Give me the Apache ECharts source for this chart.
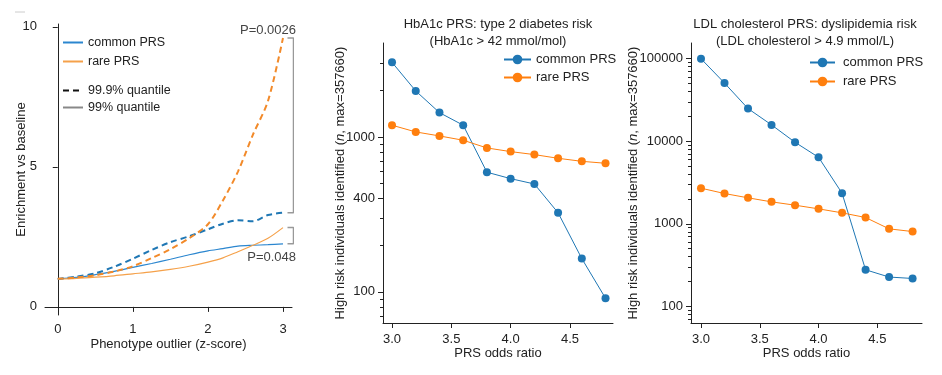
<!DOCTYPE html>
<html>
<head>
<meta charset="utf-8">
<script src="https://cdn.jsdelivr.net/npm/echarts@6/dist/echarts.min.js"></script>
<style>
  html, body { margin: 0; padding: 0; background: #fff; }
  #main { width: 942px; height: 375px; }
</style>
</head>
<body>
<div id="main"></div>
<script>
// 左图：表型离群值 vs 富集
const zScore = [0, 0.25, 0.5, 0.75, 1, 1.25, 1.5, 1.75, 2, 2.2, 2.4, 2.6, 2.8, 3];
const commonQ99 = [1.0, 1.05, 1.15, 1.27, 1.41, 1.55, 1.7, 1.86, 2.0, 2.08, 2.17, 2.2, 2.22, 2.25];
const rareQ99 = [1.0, 1.02, 1.06, 1.11, 1.18, 1.25, 1.34, 1.45, 1.6, 1.75, 1.97, 2.2, 2.45, 2.83];
const commonQ999 = [1.0, 1.08, 1.2, 1.43, 1.72, 2.03, 2.31, 2.52, 2.77, 2.97, 3.09, 3.06, 3.28, 3.36];
const rareQ999 = [1.0, 1.05, 1.13, 1.26, 1.45, 1.74, 2.06, 2.45, 2.95, 3.8, 4.83, 6.15, 7.35, 9.6];
const zTicks = [0, 1, 2, 3];
const enrichTicks = [0, 5, 10];
const pTexts = ['P=0.0026', 'P=0.048'];
const bracketHigh = [9.6, 3.36];
const bracketLow = [2.83, 2.25];

// 中图、右图：PRS odds ratio
const oddsRatio = [3.0, 3.2, 3.4, 3.6, 3.8, 4.0, 4.2, 4.4, 4.6, 4.8];
const hba1cCommon = [3030, 1980, 1435, 1190, 592, 538, 497, 324, 164, 91];
const hba1cRare = [1190, 1077, 1015, 952, 849, 804, 769, 728, 696, 676];
const ldlCommon = [100000, 50700, 24900, 15800, 9730, 6400, 2350, 278, 227, 218];
const ldlRare = [2705, 2330, 2067, 1847, 1683, 1520, 1360, 1194, 870, 807];
const orTicks = [3.0, 3.5, 4.0, 4.5];
const hba1cMajor = [100, 400, 1000];
const hba1cMinor = [70, 80, 90, 200, 300, 500, 600, 700, 800, 900, 2000, 3000];
const ldlMajor = [100, 1000, 10000, 100000];
const ldlMinor = [70, 80, 90, 200, 300, 400, 500, 600, 700, 800, 900,
  2000, 3000, 4000, 5000, 6000, 7000, 8000, 9000,
  20000, 30000, 40000, 50000, 60000, 70000, 80000, 90000];

const BLUE = '#1f77b4';
const ORANGE = '#ff7f0e';
const AX = '#222';
const FONT = 'Liberation Sans, Arial, sans-serif';

var chart = echarts.init(document.getElementById('main'));

function zip(xs, ys) {
  return xs.map((x, i) => [x, ys[i]]);
}

function baseAxis(extra) {
  return Object.assign({
    axisLine: { show: true, lineStyle: { color: AX, width: 1 } },
    splitLine: { show: false },
    nameMoveOverlap: false,
    nameTextStyle: { color: AX, fontSize: 13, fontFamily: FONT }
  }, extra);
}

function ticks(values, len) {
  return { show: true, length: len || 5, customValues: values, lineStyle: { color: AX } };
}

function labels(values, fmt, margin) {
  return { color: AX, fontSize: 13, fontFamily: FONT, customValues: values,
    margin: margin || 8, formatter: fmt || (v => String(v)) };
}

// 只画短刻度的覆盖坐标轴
function minorAxis(gridIndex, min, max, values) {
  return {
    type: 'log', gridIndex: gridIndex, min: min, max: max,
    axisLine: { show: true, lineStyle: { color: AX, opacity: 0 } },
    axisTick: ticks(values, 3),
    axisLabel: { show: false },
    splitLine: { show: false }
  };
}

const yNameRich = {
  i: { fontStyle: 'italic', fontSize: 13, fontFamily: FONT, color: AX }
};
const yName = 'High risk individuals identified ({i|n}, max=357660)';

const option = {
  animation: false,
  textStyle: { fontFamily: FONT },
  grid: [
    { left: 45, top: 24, width: 247, height: 291 },
    { left: 383, top: 43, width: 230, height: 280 },
    { left: 691, top: 43, width: 231, height: 280 },
    { left: 383, top: 43, width: 230, height: 280 },
    { left: 691, top: 43, width: 231, height: 280 }
  ],
  xAxis: [
    baseAxis({
      type: 'value', gridIndex: 0, min: -0.17, max: 3.12,
      name: 'Phenotype outlier (z-score)', nameLocation: 'middle', nameGap: 23,
      axisTick: ticks(zTicks), axisLabel: labels(zTicks)
    }),
    baseAxis({
      type: 'value', gridIndex: 1, min: 2.924, max: 4.863,
      name: 'PRS odds ratio', nameLocation: 'middle', nameGap: 24,
      axisTick: ticks(orTicks), axisLabel: labels(orTicks, v => v.toFixed(1), 10)
    }),
    baseAxis({
      type: 'value', gridIndex: 2, min: 2.915, max: 4.88,
      name: 'PRS odds ratio', nameLocation: 'middle', nameGap: 24,
      axisTick: ticks(orTicks), axisLabel: labels(orTicks, v => v.toFixed(1), 10)
    }),
    { type: 'value', gridIndex: 3, min: 2.924, max: 4.863, show: false },
    { type: 'value', gridIndex: 4, min: 2.915, max: 4.88, show: false }
  ],
  yAxis: [
    baseAxis({
      type: 'value', gridIndex: 0, min: -0.29, max: 10.1,
      name: 'Enrichment vs baseline', nameLocation: 'middle', nameGap: 17,
      axisTick: ticks(enrichTicks), axisLabel: labels(enrichTicks)
    }),
    baseAxis({
      type: 'log', gridIndex: 1, min: 63, max: 4037,
      name: yName, nameLocation: 'middle', nameGap: 36,
      nameTextStyle: { color: AX, fontSize: 13, fontFamily: FONT, rich: yNameRich },
      axisTick: ticks(hba1cMajor), axisLabel: labels(hba1cMajor)
    }),
    baseAxis({
      type: 'log', gridIndex: 2, min: 63, max: 155000,
      name: yName, nameLocation: 'middle', nameGap: 51,
      nameTextStyle: { color: AX, fontSize: 13, fontFamily: FONT, rich: yNameRich },
      axisTick: ticks(ldlMajor), axisLabel: labels(ldlMajor)
    }),
    minorAxis(3, 63, 4037, hba1cMinor),
    minorAxis(4, 63, 155000, ldlMinor)
  ],
  legend: [
    {
      data: ['common PRS', 'rare PRS'], orient: 'vertical', left: 57, top: 31,
      itemWidth: 20, itemHeight: 14, itemGap: 6, itemStyle: { opacity: 0 },
      textStyle: { color: AX, fontSize: 12.5, fontFamily: FONT }
    },
    {
      data: ['99.9% quantile', '99% quantile'], orient: 'vertical', left: 57, top: 79,
      itemWidth: 20, itemHeight: 14, itemGap: 4, itemStyle: { opacity: 0 },
      textStyle: { color: AX, fontSize: 12.5, fontFamily: FONT }
    },
    {
      data: ['common PRS ', 'rare PRS '], orient: 'vertical', left: 498, top: 48,
      itemWidth: 27, itemHeight: 12, itemGap: 5,
      formatter: n => n.trim(),
      textStyle: { color: AX, fontSize: 13, fontFamily: FONT }
    },
    {
      data: ['common PRS  ', 'rare PRS  '], orient: 'vertical', left: 804, top: 51,
      itemWidth: 25, itemHeight: 12, itemGap: 6,
      formatter: n => n.trim(),
      textStyle: { color: AX, fontSize: 13, fontFamily: FONT, padding: [0, 0, 0, 3] }
    }
  ],
  graphic: [
    { type: 'line', shape: { x1: 15, y1: 12, x2: 25, y2: 12 }, style: { stroke: '#ccc', lineWidth: 1 } },
    { type: 'text', x: 296, y: 30, style: { text: pTexts[0], fill: '#444', fontSize: 13, fontFamily: FONT, align: 'right', verticalAlign: 'middle' } },
    { type: 'text', x: 296, y: 257, style: { text: pTexts[1], fill: '#444', fontSize: 13, fontFamily: FONT, align: 'right', verticalAlign: 'middle' } },
    { type: 'text', x: 498, y: 16, style: { text: 'HbA1c PRS: type 2 diabetes risk\n(HbA1c > 42 mmol/mol)', fill: AX, fontSize: 13, lineHeight: 17, fontFamily: FONT, align: 'center' } },
    { type: 'text', x: 805, y: 16, style: { text: 'LDL cholesterol PRS: dyslipidemia risk\n(LDL cholesterol > 4.9 mmol/L)', fill: AX, fontSize: 13, lineHeight: 17, fontFamily: FONT, align: 'center' } }
  ],
  series: [
    // 左图
    { name: 'common PRS', type: 'line', xAxisIndex: 0, yAxisIndex: 0, data: zip(zScore, commonQ99),
      symbol: 'none', smooth: 0.3, lineStyle: { color: '#2b86cf', width: 1.2 }, itemStyle: { color: '#2b86cf' } },
    { name: 'rare PRS', type: 'line', xAxisIndex: 0, yAxisIndex: 0, data: zip(zScore, rareQ99),
      symbol: 'none', smooth: 0.3, lineStyle: { color: '#f5a14a', width: 1.2 }, itemStyle: { color: '#f5a14a' } },
    { name: 'common 99.9', type: 'line', xAxisIndex: 0, yAxisIndex: 0, data: zip(zScore, commonQ999),
      symbol: 'none', smooth: 0.3, lineStyle: { color: BLUE, width: 2, type: [6, 4] } },
    { name: 'rare 99.9', type: 'line', xAxisIndex: 0, yAxisIndex: 0, data: zip(zScore, rareQ999),
      symbol: 'none', smooth: 0.3, lineStyle: { color: '#f28a2a', width: 2, type: [6, 4] } },
    { name: '99.9% quantile', type: 'line', xAxisIndex: 0, yAxisIndex: 0, data: [],
      symbol: 'none', lineStyle: { color: '#111', width: 2, type: [6, 4] }, itemStyle: { color: '#111' } },
    { name: '99% quantile', type: 'line', xAxisIndex: 0, yAxisIndex: 0, data: [],
      symbol: 'none', lineStyle: { color: '#888', width: 1.5 }, itemStyle: { color: '#888' } },
    { name: 'bracket1', type: 'line', xAxisIndex: 0, yAxisIndex: 0, clip: false, symbol: 'none', silent: true,
      data: [[3.06, bracketHigh[0]], [3.14, bracketHigh[0]], [3.14, bracketHigh[1]], [3.06, bracketHigh[1]]],
      lineStyle: { color: '#999', width: 1.5 } },
    { name: 'bracket2', type: 'line', xAxisIndex: 0, yAxisIndex: 0, clip: false, symbol: 'none', silent: true,
      data: [[3.06, bracketLow[0]], [3.14, bracketLow[0]], [3.14, bracketLow[1]], [3.06, bracketLow[1]]],
      lineStyle: { color: '#999', width: 1.5 } },
    // 中图
    { name: 'common PRS ', type: 'line', xAxisIndex: 1, yAxisIndex: 1, data: zip(oddsRatio, hba1cCommon),
      symbol: 'circle', symbolSize: 8, lineStyle: { color: BLUE, width: 1 }, itemStyle: { color: BLUE } },
    { name: 'rare PRS ', type: 'line', xAxisIndex: 1, yAxisIndex: 1, data: zip(oddsRatio, hba1cRare),
      symbol: 'circle', symbolSize: 8, lineStyle: { color: ORANGE, width: 1 }, itemStyle: { color: ORANGE } },
    // 右图
    { name: 'common PRS  ', type: 'line', xAxisIndex: 2, yAxisIndex: 2, data: zip(oddsRatio, ldlCommon),
      symbol: 'circle', symbolSize: 8, lineStyle: { color: BLUE, width: 1 }, itemStyle: { color: BLUE } },
    { name: 'rare PRS  ', type: 'line', xAxisIndex: 2, yAxisIndex: 2, data: zip(oddsRatio, ldlRare),
      symbol: 'circle', symbolSize: 8, lineStyle: { color: ORANGE, width: 1 }, itemStyle: { color: ORANGE } },
    // 覆盖网格上的空系列（让次刻度轴生效）
    { name: 'minor1', type: 'line', xAxisIndex: 3, yAxisIndex: 3, data: [], silent: true },
    { name: 'minor2', type: 'line', xAxisIndex: 4, yAxisIndex: 4, data: [], silent: true }
  ]
};

chart.setOption(option);
</script>
</body>
</html>
